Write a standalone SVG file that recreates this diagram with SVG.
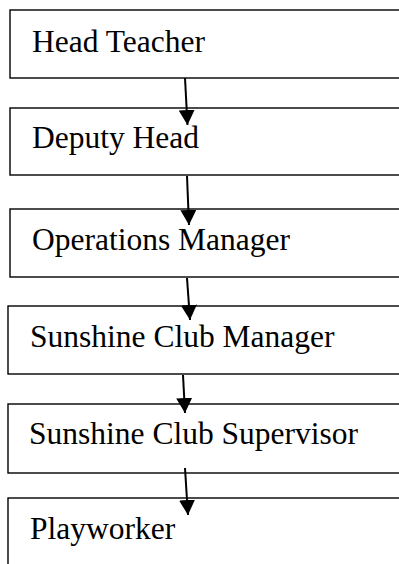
<svg xmlns="http://www.w3.org/2000/svg" width="399" height="564" viewBox="0 0 399 564">
<style>
.box{fill:#fff;stroke:#000;stroke-width:1.4}
.lbl{font-family:"Liberation Serif","Times New Roman",serif;font-size:31.5px;fill:#000}
.con{stroke:#000;stroke-width:2;fill:none}
</style>
<defs>
<marker id="ah" markerUnits="userSpaceOnUse" markerWidth="18" markerHeight="16" refX="15" refY="8" orient="auto">
<path d="M0,0 L15,8 L0,16 Z" fill="#000"/>
</marker>
</defs>
<rect width="399" height="564" fill="#fff"/>
<g id="n1"><rect class="box" x="10" y="10" width="420" height="68"/><text class="lbl" x="32" y="52">Head Teacher</text></g>
<g id="n2"><rect class="box" x="10" y="108" width="420" height="67"/><text class="lbl" x="32" y="148">Deputy Head</text></g>
<g id="n3"><rect class="box" x="10" y="209" width="420" height="68"/><text class="lbl" x="32" y="250">Operations Manager</text></g>
<g id="n4"><rect class="box" x="8" y="306" width="420" height="68"/><text class="lbl" x="30" y="347">Sunshine Club Manager</text></g>
<g id="n5"><rect class="box" x="8" y="404" width="420" height="69"/><text class="lbl" x="29" y="444">Sunshine Club Supervisor</text></g>
<g id="n6"><rect class="box" x="8" y="498" width="420" height="100"/><text class="lbl" x="30" y="539">Playworker</text></g>
<g id="connectors">
<line class="con" x1="185" y1="78" x2="187.5" y2="125" marker-end="url(#ah)"/>
<line class="con" x1="187" y1="176" x2="189" y2="225" marker-end="url(#ah)"/>
<line class="con" x1="187" y1="278" x2="190" y2="320" marker-end="url(#ah)"/>
<line class="con" x1="183" y1="375" x2="185" y2="413" marker-end="url(#ah)"/>
<line class="con" x1="185" y1="468" x2="188" y2="515" marker-end="url(#ah)"/>
</g>
</svg>
